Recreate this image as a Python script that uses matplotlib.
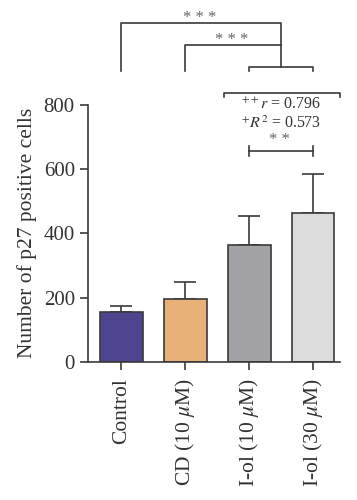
import matplotlib
matplotlib.use("Agg")
import matplotlib.pyplot as plt

categories = ["Control", "CD (10 $\\mu$M)", "I-ol (10 $\\mu$M)", "I-ol (30 $\\mu$M)"]
means = [155, 194, 365, 462]
errors = [20, 55, 88, 122]
colors = ["#4E4591", "#E8B177", "#A3A2A6", "#DCDCDC"]
yticks = [0, 200, 400, 600, 800]

plt.rcParams['font.family'] = ['Liberation Serif', 'DejaVu Serif']
plt.rcParams['mathtext.fontset'] = 'stix'
lc = "#3a3a3a"

fig = plt.figure(figsize=(3.57, 5.0), dpi=100)
ax = fig.add_axes([0.2465, 0.2766, 0.7055, 0.5134])
x = list(range(len(categories)))
ax.bar(x, means, width=0.67, color=colors, edgecolor=lc, linewidth=1.2, zorder=2)
ax.errorbar(x, means, yerr=[[0]*4, errors], fmt='none', ecolor=lc, elinewidth=1.2,
            capsize=8, capthick=1.2, zorder=1)
ax.set_xlim(-0.52, 3.42)
ax.set_ylim(0, 800)
ax.set_yticks(yticks)
ax.set_xticks(x)
ax.set_xticklabels(categories, rotation=90, fontsize=15.5, color="#333333")
ax.tick_params(axis='y', labelsize=15, colors=lc, length=6, width=1.2, labelcolor="#333333")
ax.tick_params(axis='x', length=6, width=1.2, colors=lc, labelcolor="#333333", pad=6)
ax.set_ylabel("Number of p27 positive cells", fontsize=15.5, color="#333333", labelpad=5)
for s in ['top', 'right']:
    ax.spines[s].set_visible(False)
for s in ['left', 'bottom']:
    ax.spines[s].set_color(lc)
    ax.spines[s].set_linewidth(1.2)

kw = dict(color=lc, linewidth=1.2, clip_on=False)
# top brackets
ax.plot([0, 0, 2.5, 2.5], [905, 1055, 1055, 918], **kw)
ax.plot([1, 1, 2.5], [905, 986, 986], **kw)
ax.plot([2, 2, 3, 3], [905, 918, 918, 905], **kw)
ax.text(1.22, 1072, "* * *", ha='center', va='center', fontsize=12, color="#666666", clip_on=False)
ax.text(1.72, 1003, "* * *", ha='center', va='center', fontsize=12, color="#666666", clip_on=False)
# bracket above correlation text
ax.plot([1.6, 1.6, 3.42, 3.42], [825, 837, 837, 825], **kw)
ax.text(2.5, 800, r"$^{++}r$ = 0.796", ha='center', va='center', fontsize=11.5, color="#333333", clip_on=False)
ax.text(2.5, 743, r"$^{+}R^{2}$ = 0.573", ha='center', va='center', fontsize=11.5, color="#333333", clip_on=False)
ax.text(2.48, 690, "* *", ha='center', va='center', fontsize=12, color="#666666", clip_on=False)
ax.plot([2, 3], [656, 656], **kw)
ax.plot([2, 2], [640, 672], **kw)
ax.plot([3, 3], [640, 672], **kw)

fig.savefig("out.png", dpi=100)
